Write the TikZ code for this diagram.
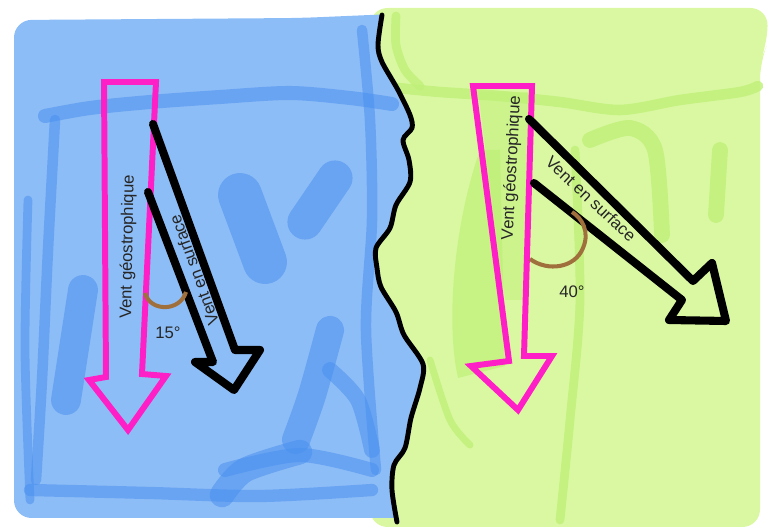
\documentclass[tikz,border=0pt]{standalone}
\usepackage{fontspec}
\setmainfont{Liberation Sans}
\definecolor{seablue}{HTML}{8DBDF6}
\definecolor{seadark}{HTML}{4A90EF}
\definecolor{landgreen}{HTML}{DAF8A2}
\definecolor{landdark}{HTML}{BFF078}
\definecolor{geomag}{HTML}{FF1FC6}
\definecolor{anglebrown}{HTML}{A0703C}

\begin{document}
\begin{tikzpicture}[x=0.02cm,y=-0.02cm,
 lbl/.style={font=\fontsize{9.5}{11}\selectfont,text=black!85,inner sep=1pt},
 geo/.style={draw=geomag,line width=3.4pt,line join=miter},
 surf/.style={draw=black,line width=4.6pt,line join=round,line cap=round},
 ang/.style={draw=anglebrown,line width=2.3pt},
 coast/.style={draw=black,line width=2.8pt,line cap=round},
 seablob/.style={draw=seadark,opacity=.55,line width=#1,line cap=round,line join=round},
 landblob/.style={draw=landdark,opacity=.8,line width=#1,line cap=round,line join=round}]
\useasboundingbox (0,0) rectangle (779,527);
% land on the right
\fill[landgreen,rounded corners=10] (370,8) -- (768,8) -- (767,45) -- (760,62) -- (760,527) -- (370,527) -- cycle;
\draw[landblob=6pt] plot[smooth] coordinates {(398,88) (440,92) (500,96) (560,102) (620,110) (680,100) (740,92) (758,86)};
\draw[landblob=5pt] plot[smooth] coordinates {(396,16) (396,45) (405,70) (420,86)};
\fill[landdark,opacity=.7] (480,150) .. controls (455,220) and (445,320) .. (458,378) -- (505,366) -- (500,150) -- cycle;
\fill[landdark,opacity=.5] (478,92) -- (530,92) -- (524,300) -- (505,300) -- cycle;
\draw[landblob=9pt] plot[smooth] coordinates {(590,140) (630,128) (655,150) (662,235)};
\draw[landblob=9pt] (720,150) -- (716,215);
\draw[landblob=5pt] plot[smooth] coordinates {(575,150) (580,300) (570,420) (560,520)};
\draw[landblob=4pt] plot[smooth] coordinates {(430,360) (450,420) (470,445)};
% sea on the left
\begin{scope}
\clip (0,0) -- (382,0) -- plot[smooth] coordinates {(382,15) (378,45) (382,62) (398,90) (410,115) (412,128) (403,140) (409,160) (410,182) (396,205) (390,228) (376,248) (377,268) (381,287) (396,312) (404,335) (423,364) (420,388) (411,418) (405,448) (394,465) (392,490) (397,522)} -- (397,527) -- (0,527) -- cycle;
\fill[seablue,rounded corners=10] (14,20) -- (300,18) -- (440,12) -- (440,518) -- (14,518) -- cycle;
\draw[seablob=8pt] plot[smooth] coordinates {(45,116) (90,108) (150,102) (220,97) (290,93) (350,98) (392,104)};
\draw[seablob=6pt] plot[smooth] coordinates {(55,120) (48,250) (42,380) (36,480)};
\draw[seablob=5pt] plot[smooth] coordinates {(28,200) (25,350) (30,500)};
\draw[seablob=7pt] plot[smooth] coordinates {(30,490) (150,493) (260,496) (372,490)};
\draw[seablob=6pt] plot[smooth] coordinates {(362,30) (370,120) (372,220) (366,330) (376,470)};
\draw[seablob=17pt] (83,290) -- (66,400);
\draw[seablob=25pt] (240,195) -- (265,262);
\draw[seablob=20pt] (335,178) -- (305,222);
\draw[seablob=16pt] plot[smooth] coordinates {(330,330) (312,395) (296,440)};
\draw[seablob=14pt] plot[smooth] coordinates {(300,452) (245,470) (222,495)};
\draw[seablob=8pt] plot[smooth] coordinates {(225,470) (300,455) (372,470)};
\draw[seablob=9pt] plot[smooth] coordinates {(330,370) (358,400) (372,450)};
\end{scope}
\draw[coast] plot[smooth] coordinates {(382,15) (378,45) (382,62) (398,90) (410,115) (412,128) (403,140) (409,160) (410,182) (396,205) (390,228) (376,248) (377,268) (381,287) (396,312) (404,335) (423,364) (420,388) (411,418) (405,448) (394,465) (392,490) (397,522)};
% left: 15 degrees
\draw[geo] (104,82) -- (156,82) -- (142,374) -- (166,376) -- (128,430) -- (89,380) -- (106,377) -- cycle;
\draw[surf] (153,124) -- (235,350) -- (260,350) -- (234,390) -- (195,362) -- (213,362) -- (148,192);
\draw[ang] (145,293) .. controls (150,312) and (180,312) .. (186,292);
\node[lbl,rotate=89] (geoA) at (128,247) {Vent géostrophique};
\node[lbl,rotate=110] (surfA) at (194,270) {Vent en surface};
\node[lbl] (angA) at (168,333) {15°};
% right: 40 degrees
\draw[geo] (473,86) -- (532,86) -- (524,356) -- (552,356) -- (518,410) -- (471,366) -- (509,361) -- cycle;
\draw[surf] (529,119) -- (693,281) -- (712,263) -- (726,321) -- (669,320) -- (682,300) -- (534,183);
\draw[ang] (530,259) .. controls (548,272) and (575,268) .. (583,248) .. controls (590,232) and (582,218) .. (572,212);
\node[lbl,rotate=87] (geoB) at (512,168) {Vent géostrophique};
\node[lbl,rotate=-43] (surfB) at (591,199) {Vent en surface};
\node[lbl] (angB) at (572,292) {40°};
\end{tikzpicture}
\end{document}
